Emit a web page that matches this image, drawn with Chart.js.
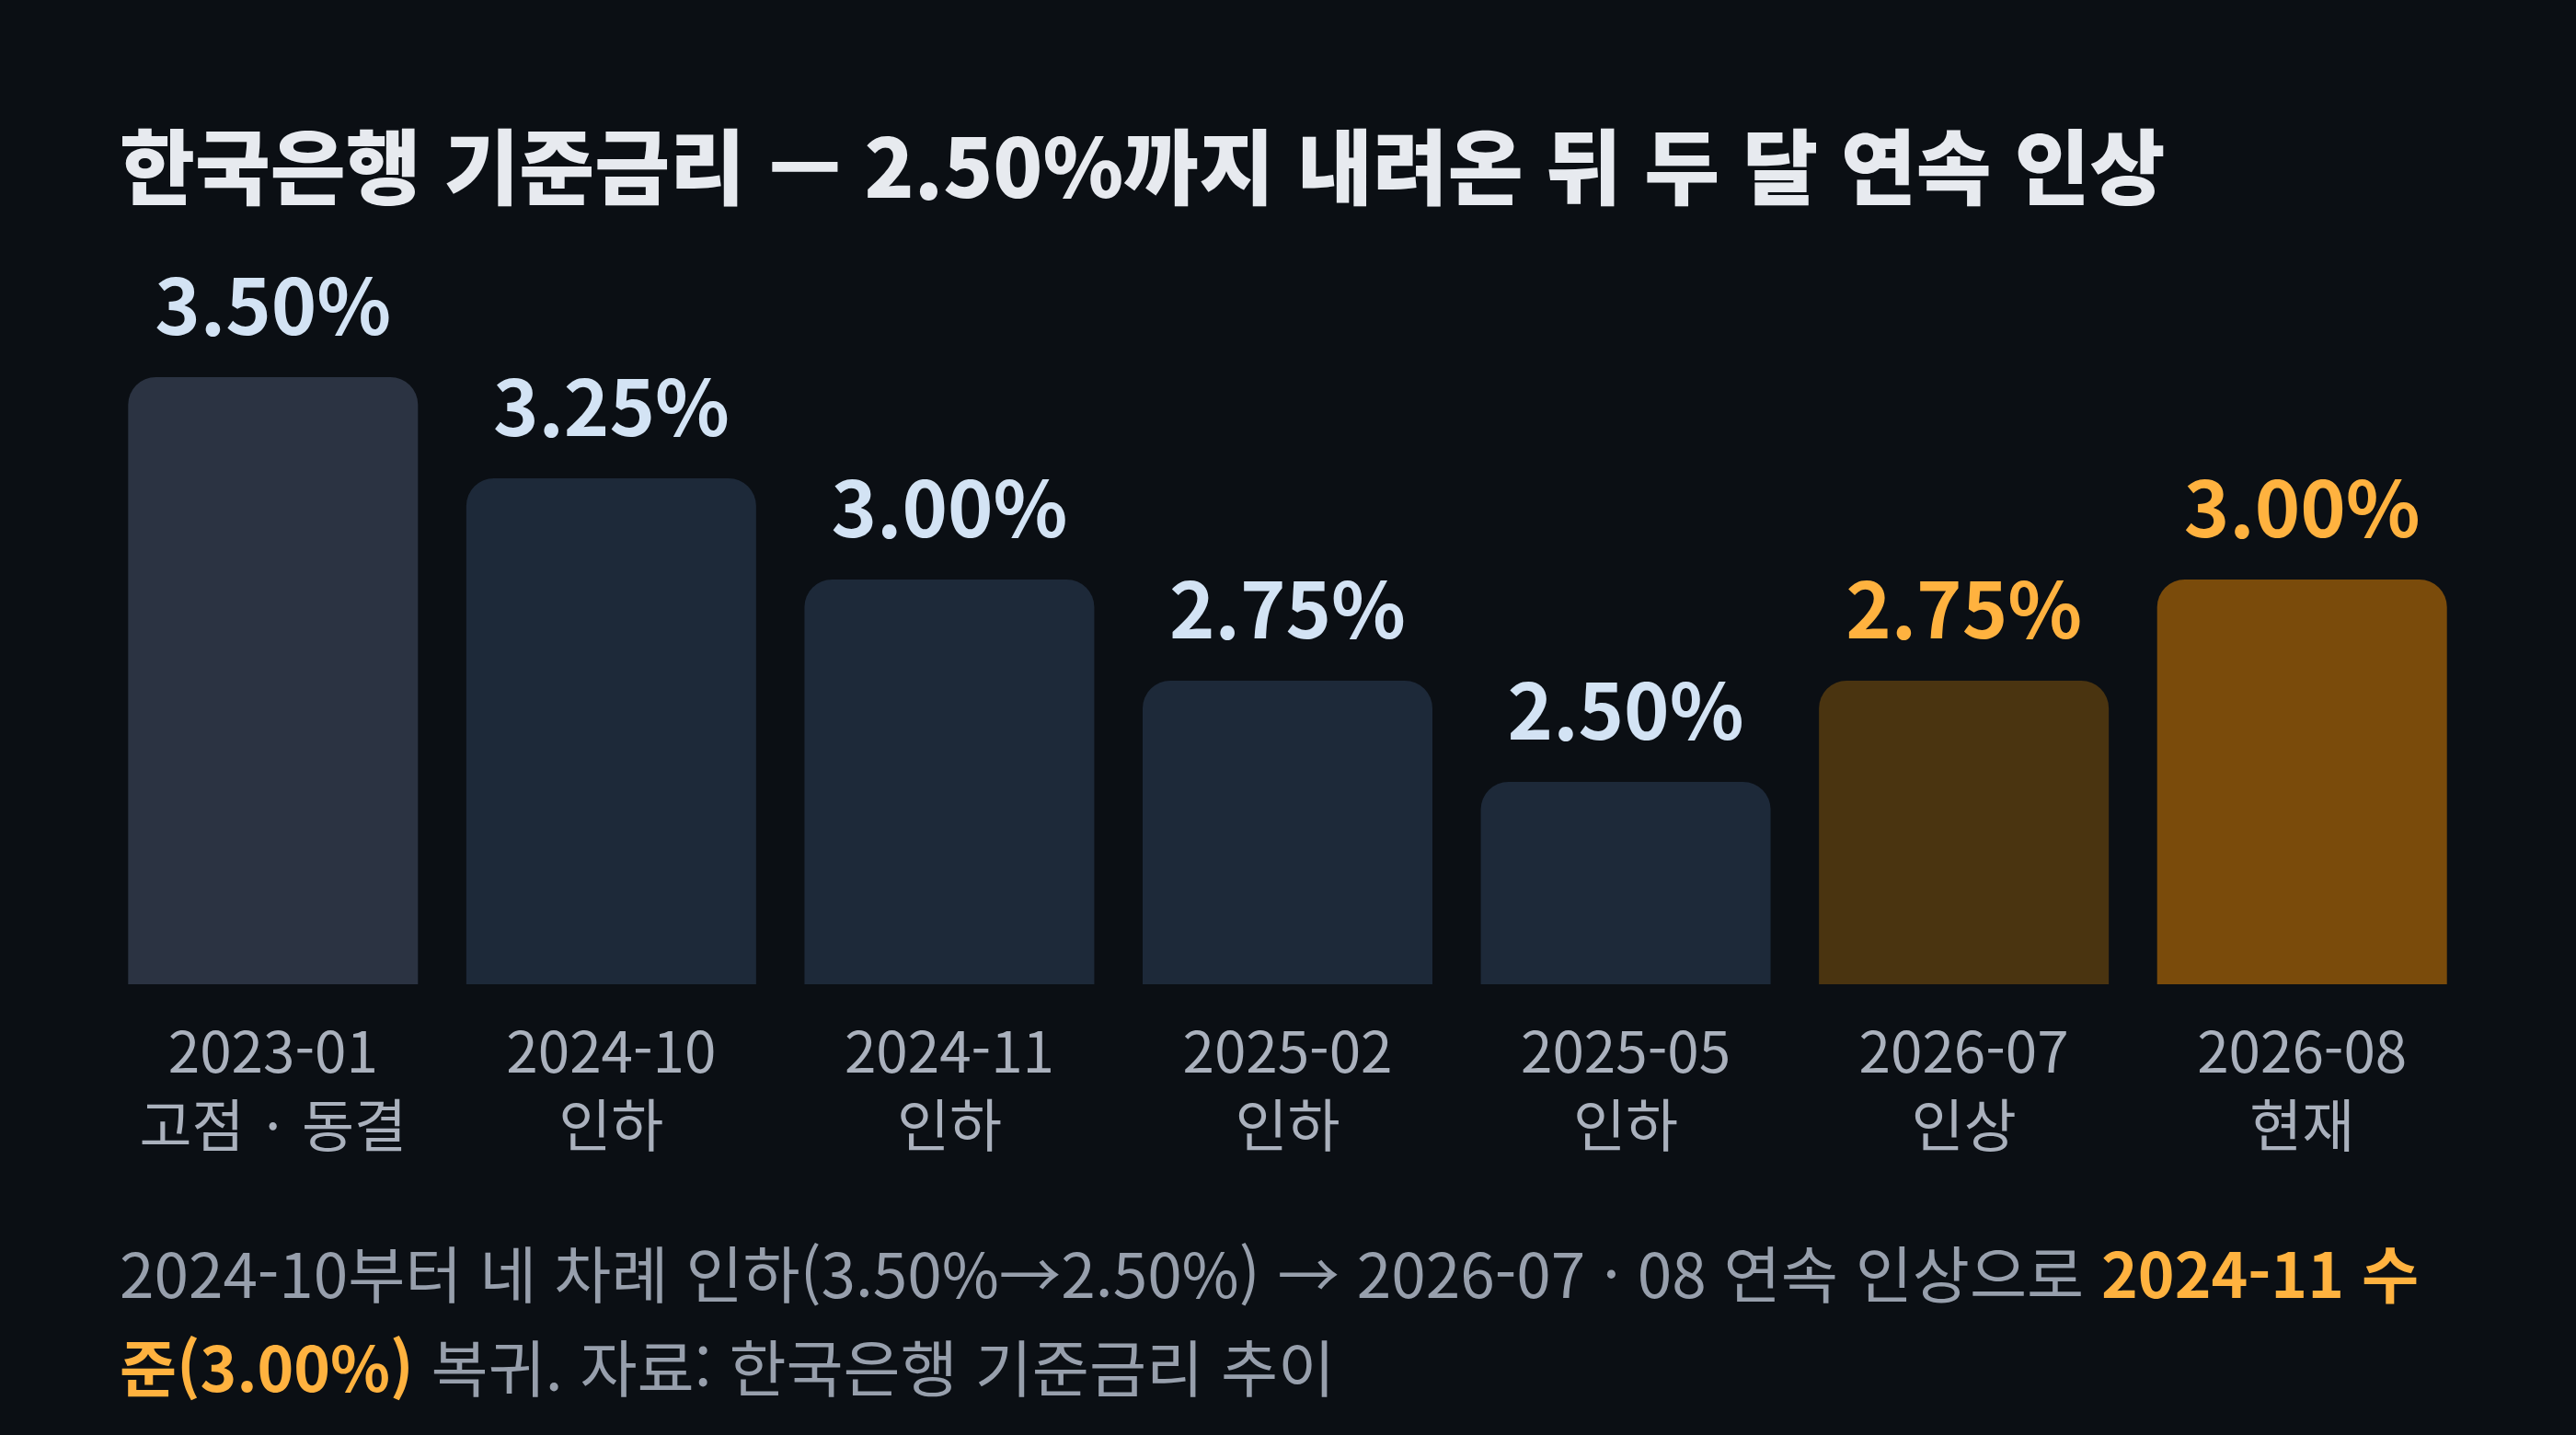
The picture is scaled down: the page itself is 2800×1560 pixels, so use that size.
<!DOCTYPE html>
<html lang="ko">
<head>
<meta charset="utf-8">
<title>한국은행 기준금리</title>
<script src="https://cdn.jsdelivr.net/npm/chart.js@4/dist/chart.umd.min.js"></script>
<style>
  html, body { margin: 0; padding: 0; background: #0b0f14; }
  body { width: 2800px; height: 1560px; position: relative; overflow: hidden; font-family: "Noto Sans CJK KR", "Noto Sans", sans-serif; }
  #title { position: absolute; left: 130px; top: 127px; margin: 0; font-size: 89px; font-weight: 900; line-height: 100px; color: #e7eaef; white-space: nowrap; }
  #chartBox { position: absolute; left: 0; top: 280px; width: 2800px; height: 1020px; }
  #note { position: absolute; left: 130px; top: 1331px; margin: 0; font-size: 67.5px; font-weight: 400; line-height: 102px; color: #979fac; white-space: nowrap; }
  #note b { color: #ffb23f; font-weight: 700; }
</style>
</head>
<body>
<h1 id="title">한국은행 기준금리 — 2.50%까지 내려온 뒤 두 달 연속 인상</h1>
<div id="chartBox"><canvas id="rateChart" width="2800" height="1020"></canvas></div>
<p id="note">2024-10부터 네 차례 인하(3.50%→2.50%) → 2026-07 · 08 연속 인상으로 <b>2024-11 수<br>준(3.00%)</b> 복귀. 자료: 한국은행 기준금리 추이</p>

<script>
// 데이터
const months = ['2023-01', '2024-10', '2024-11', '2025-02', '2025-05', '2026-07', '2026-08'];
const moves = ['고점 · 동결', '인하', '인하', '인하', '인하', '인상', '현재'];
const rates = [3.50, 3.25, 3.00, 2.75, 2.50, 2.75, 3.00];

// 스타일
const barColors = ['#2b3342', '#1d2939', '#1d2939', '#1d2939', '#1d2939', '#4a3410', '#7a4b0b'];
const labelColors = ['#d3e3f4', '#d3e3f4', '#d3e3f4', '#d3e3f4', '#d3e3f4', '#ffb23f', '#ffb23f'];
const fontFamily = "'Noto Sans CJK KR', 'Noto Sans', sans-serif";

const valueLabels = {
  id: 'valueLabels',
  afterDatasetsDraw(chart) {
    const ctx = chart.ctx;
    const meta = chart.getDatasetMeta(0);
    ctx.save();
    ctx.font = '700 84px ' + fontFamily;
    ctx.textAlign = 'center';
    ctx.textBaseline = 'alphabetic';
    meta.data.forEach(function(bar, i) {
      ctx.fillStyle = labelColors[i];
      ctx.fillText(rates[i].toFixed(2) + '%', bar.x, bar.y - 46);
    });
    ctx.restore();
  }
};

const ctx = document.getElementById('rateChart').getContext('2d');
new Chart(ctx, {
  type: 'bar',
  data: {
    labels: months.map(function(m, i) { return [m, moves[i]]; }),
    datasets: [{
      data: rates,
      base: 2,
      backgroundColor: barColors,
      borderWidth: 0,
      borderRadius: 30,
      borderSkipped: 'bottom',
      barPercentage: 0.857,
      categoryPercentage: 1.0,
      clip: false
    }]
  },
  options: {
    responsive: false,
    devicePixelRatio: 1,
    animation: false,
    layout: { padding: { top: 130, left: 113, right: 114, bottom: 30 } },
    plugins: {
      legend: { display: false },
      tooltip: { enabled: false }
    },
    scales: {
      x: {
        grid: { display: false, drawTicks: false },
        border: { display: false },
        ticks: {
          color: '#aab1bd',
          padding: 32,
          font: { family: fontFamily, size: 62, lineHeight: 1.31 }
        },
        afterFit: function(axis) { axis.height = 200; }
      },
      y: {
        display: false,
        min: 2,
        max: 3.5
      }
    }
  },
  plugins: [valueLabels]
});
</script>
</body>
</html>
